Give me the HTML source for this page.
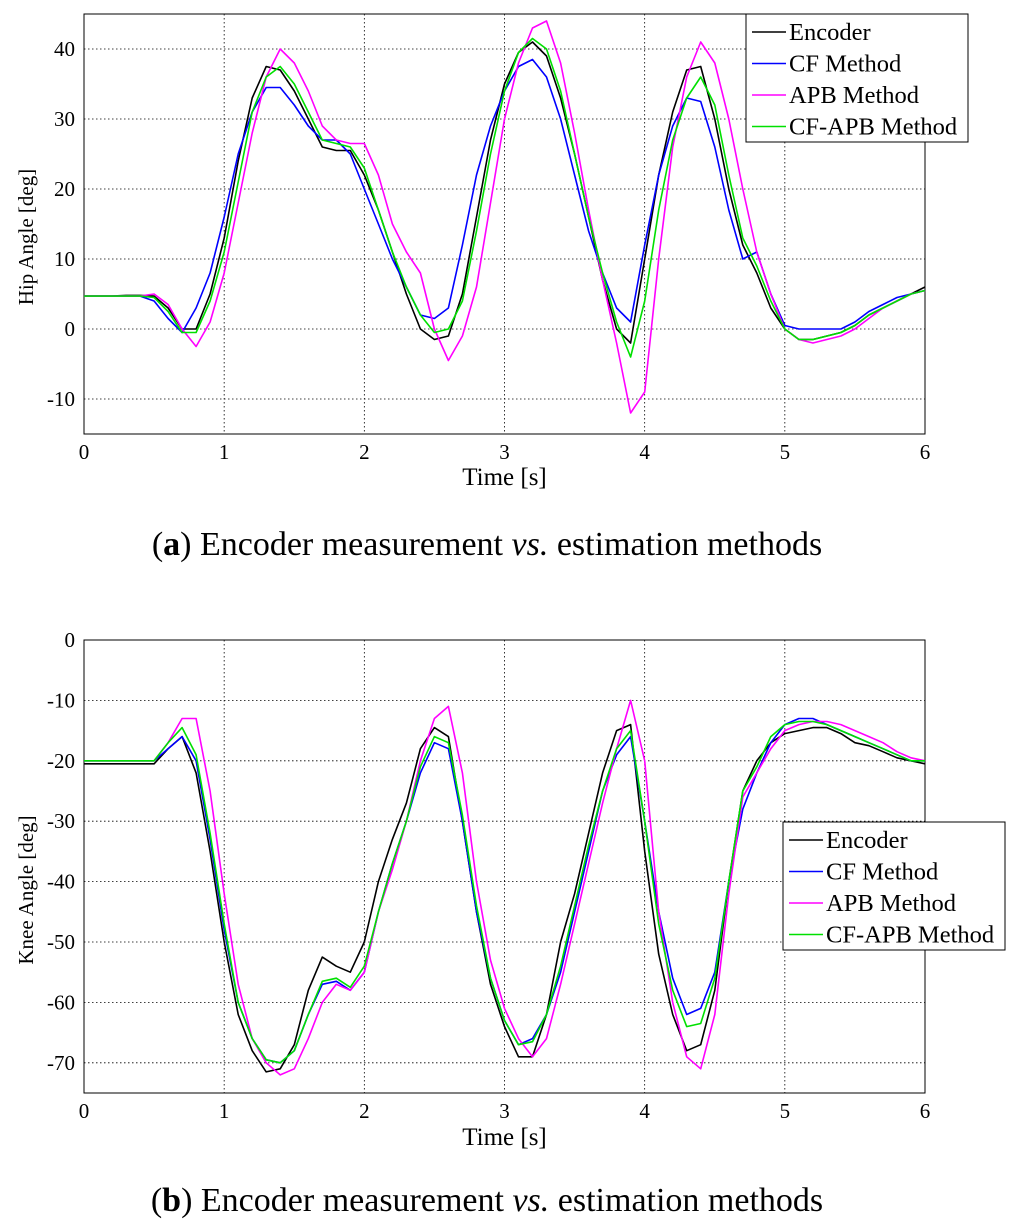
<!DOCTYPE html>
<html><head><meta charset="utf-8"><style>
body{margin:0;background:#fff;}
svg{display:block;font-family:"Liberation Serif",serif;}
</style></head><body>
<svg id="s" width="1024" height="1229" viewBox="0 0 1024 1229" xmlns="http://www.w3.org/2000/svg"></svg>
<script>
const timeSteps = 61; // t = 0..6 step 0.1
const hipEncoder=[4.7,4.7,4.7,4.8,4.8,4.7,3,0,0,5,13,24,33,37.5,37,34,30,26,25.5,25.5,22,17,11,5,0,-1.5,-1,5,16,27,35,39.5,41,39,33,25,16,7,0,-2,10,22,31,37,37.5,30,20,12,8,3,0,-1.5,-1.5,-1,-0.5,0.5,2,3,4,5,6];
const hipCF=[4.7,4.7,4.7,4.7,4.7,4,1.5,-0.5,3,8,16,25,31,34.5,34.5,32,29,27,27,25,20,15,10,6,2,1.5,3,12,22,29,34,37.5,38.5,36,30,22,14,8,3,1,12,22,29,33,32.5,26,17,10,11,5,0.5,0,0,0,0,1,2.5,3.5,4.5,5,5.5];
const hipAPB=[4.7,4.7,4.7,4.7,4.7,5,3.5,0,-2.5,1,8,18,28,36,40,38,34,29,27,26.5,26.5,22,15,11,8,0,-4.5,-1,6,18,30,38,43,44,38,28,17,7,-2,-12,-9,10,26,36,41,38,30,20,11,5,0,-1.5,-2,-1.5,-1,0,1.5,3,4,5,5.5];
const hipCFAPB=[4.7,4.7,4.7,4.7,4.7,4.5,2.5,-0.5,-0.5,4,11,21,31,36,37.5,35,31,27,26.5,26,23,17,11,6,2,-0.5,0,4,14,25,34,39.5,41.5,40,34,25,16,8,1,-4,4,17,27,33,36,32,22,13,9,4,0,-1.5,-1.5,-1,-0.5,0.5,2,3,4,5,5.5];
const kneeEncoder=[-20.5,-20.5,-20.5,-20.5,-20.5,-20.5,-18,-16,-22,-35,-50,-62,-68,-71.5,-71,-67,-58,-52.5,-54,-55,-50,-40,-33,-27,-18,-14.5,-16,-30,-45,-57,-64,-69,-69,-62,-50,-42,-32,-22,-15,-14,-35,-52,-62,-68,-67,-58,-40,-25,-20,-17,-15.5,-15,-14.5,-14.5,-15.5,-17,-17.5,-18.5,-19.5,-20,-20.5];
const kneeCF=[-20,-20,-20,-20,-20,-20,-18,-16,-20,-33,-48,-60,-66,-69.5,-70,-68,-62,-57,-56.5,-58,-55,-45,-37,-30,-22,-17,-18,-30,-45,-56,-63,-67,-66,-62,-55,-45,-35,-25,-19,-16,-30,-45,-56,-62,-61,-55,-40,-28,-22,-17,-14,-13,-13,-14,-15,-16,-17,-18,-19,-20,-20];
const kneeAPB=[-20,-20,-20,-20,-20,-20,-17,-13,-13,-25,-42,-57,-66,-70,-72,-71,-66,-60,-57,-58,-55,-45,-38,-30,-20,-13,-11,-22,-40,-53,-61,-66,-69,-66,-57,-47,-37,-27,-18,-10,-20,-45,-60,-69,-71,-62,-42,-26,-22,-18,-15,-14,-13.5,-13.5,-14,-15,-16,-17,-18.5,-19.5,-20];
const kneeCFAPB=[-20,-20,-20,-20,-20,-20,-17,-14.5,-19,-32,-47,-60,-66,-69.5,-70,-68,-62,-56.5,-56,-57.5,-54,-45,-37,-30,-21,-16,-17,-29,-44,-56,-63,-67,-66.5,-62,-54,-44,-34,-25,-18,-15,-30,-47,-58,-64,-63.5,-56,-40,-25,-21,-16,-14,-13.5,-13.5,-14,-15,-16,-17,-18,-19,-20,-20];
const xTicks=[0,1,2,3,4,5,6];
const hipYTicks=[-10,0,10,20,30,40];
const kneeYTicks=[-70,-60,-50,-40,-30,-20,-10,0];
const legendLabels=["Encoder","CF Method","APB Method","CF-APB Method"];
const colors=["#000","#0000ff","#ff00ff","#00e000"];

const NS="http://www.w3.org/2000/svg";
const svg=document.getElementById('s');
function mk(tag,attrs,parent){const e=document.createElementNS(NS,tag);for(const k in attrs)e.setAttribute(k,attrs[k]);(parent||svg).appendChild(e);return e;}

function chart(cfg){
  const g=mk('g',{});
  
  
  const X=t=>cfg.x0+(t-0)/6*(cfg.x1-cfg.x0);
  const Y=v=>cfg.y1+(v-cfg.ymin)/(cfg.ymax-cfg.ymin)*(cfg.y0-cfg.y1);
  xTicks.forEach(t=>{
    if(t>0&&t<6){const l=mk('line',{x1:X(t),x2:X(t),y1:cfg.y0,y2:cfg.y1,stroke:'#000','stroke-width':0.8,'stroke-dasharray':'1.5,2.5'},g);
    
    }
    const tx=mk('text',{x:X(t),y:cfg.y1+25,'text-anchor':'middle','font-size':21},g);tx.textContent=t;
    
    
  });
  cfg.yticks.forEach(v=>{
    if(v>cfg.ymin&&v<cfg.ymax){const l=mk('line',{x1:cfg.x0,x2:cfg.x1,y1:Y(v),y2:Y(v),stroke:'#000','stroke-width':0.8,'stroke-dasharray':'1.5,2.5'},g);
    
    }
    const tx=mk('text',{x:cfg.x0-9,y:Y(v)+7,'text-anchor':'end','font-size':21},g);tx.textContent=v;
    
    
  });
  const box=mk('rect',{x:cfg.x0,y:cfg.y0,width:cfg.x1-cfg.x0,height:cfg.y1-cfg.y0,fill:'none',stroke:'#000','stroke-width':1},g);
  
  
  cfg.series.forEach((arr,i)=>{
    let d='';arr.forEach((v,k)=>{d+=(k?'L':'M')+X(k*0.1).toFixed(1)+','+Y(v).toFixed(1);});
    const p=mk('path',{d:d,fill:'none',stroke:colors[i],'stroke-width':1.6,'stroke-linejoin':'round'},g);
    
    
  });
  const xt=mk('text',{x:(cfg.x0+cfg.x1)/2,y:cfg.xTitleY,'text-anchor':'middle','font-size':25},g);xt.textContent='Time [s]';
  
  
  const yt=mk('text',{x:0,y:0,'text-anchor':'middle','font-size':21,transform:`translate(33,${cfg.ytitleY}) rotate(-90)`},g);yt.textContent=cfg.ytitle;
  
  
  const lg=mk('g',{},g);
  
  
  mk('rect',{x:cfg.lx,y:cfg.ly,width:222,height:128,fill:'#fff',stroke:'#000','stroke-width':1},lg);
  legendLabels.forEach((lab,i)=>{
    const yy=cfg.ly+18+i*31.5;
    mk('line',{x1:cfg.lx+6,x2:cfg.lx+40,y1:yy,y2:yy,stroke:colors[i],'stroke-width':1.6},lg);
    const t=mk('text',{x:cfg.lx+43,y:yy+8,'font-size':24.5},lg);t.textContent=lab;
    
    
  });
}
chart({name:'hip-chart',x0:84,x1:925,y0:14,y1:434,ymin:-15,ymax:45,yticks:hipYTicks,series:[hipEncoder,hipCF,hipAPB,hipCFAPB],ytitle:'Hip Angle [deg]',ytitleY:237,xTitleY:485,lx:746,ly:14});
chart({name:'knee-chart',x0:84,x1:925,y0:640,y1:1093,ymin:-75,ymax:0,yticks:kneeYTicks,series:[kneeEncoder,kneeCF,kneeAPB,kneeCFAPB],ytitle:'Knee Angle [deg]',ytitleY:890,xTitleY:1145,lx:783,ly:822});
function caption(y,letter,name){
  const t=mk('text',{x:487,y:y,'text-anchor':'middle','font-size':34});
  
  
  t.innerHTML='(<tspan font-weight="bold">'+letter+'</tspan>) Encoder measurement <tspan font-style="italic">vs.</tspan> estimation methods';
}
caption(555,'a','caption-a');
caption(1211,'b','caption-b');
</script>
</body></html>
